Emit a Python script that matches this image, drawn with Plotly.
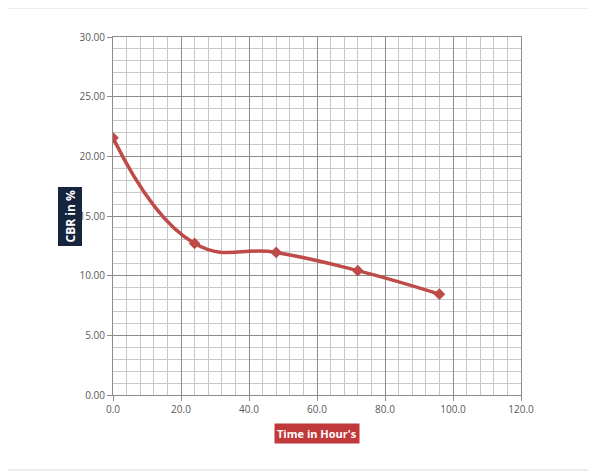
import plotly.graph_objects as go

time_hours = [0, 24, 48, 72, 96]
cbr_percent = [21.55, 12.7, 11.95, 10.42, 8.45]

x_title = "Time in Hour's"
y_title = "CBR in %"

# page body has an 8px margin; figure coordinates are offset accordingly
W, H = 588, 468
L, T = 105, 29
PW, PH = 408, 358

fig = go.Figure()
fig.add_trace(go.Scatter(
    x=time_hours, y=cbr_percent, mode="lines+markers",
    line=dict(color="#BE4B48", width=3.5, shape="spline", smoothing=1.3),
    marker=dict(symbol="diamond", size=9, color="#BE4B48"),
    showlegend=False,
))

fig.update_layout(
    width=W, height=H,
    margin=dict(l=L, r=W - L - PW, t=T, b=H - T - PH),
    paper_bgcolor="white", plot_bgcolor="white",
    font=dict(family="Open Sans", size=10, color="#595959"),
    xaxis=dict(
        range=[0, 120], dtick=20, tickformat=".1f",
        showgrid=True, gridcolor="#8c8c8c", gridwidth=1,
        showline=True, linecolor="#8c8c8c", linewidth=1, mirror=True,
        ticks="outside", ticklen=5, tickcolor="#8c8c8c",
        zeroline=False,
        minor=dict(dtick=4, showgrid=True, gridcolor="#c8c8c8", gridwidth=1),
        fixedrange=True,
    ),
    yaxis=dict(
        range=[0, 30], dtick=5, tickformat=".2f",
        showgrid=True, gridcolor="#8c8c8c", gridwidth=1,
        showline=True, linecolor="#8c8c8c", linewidth=1, mirror=True,
        ticks="outside", ticklen=5, tickcolor="#8c8c8c",
        zeroline=False,
        minor=dict(dtick=1, showgrid=True, gridcolor="#c8c8c8", gridwidth=1),
        fixedrange=True,
    ),
    shapes=[dict(type="rect", xref="paper", yref="paper",
                 x0=-(113-5)/PW, x1=(590-113)/PW, y0=-(470-395)/PH, y1=(395-8)/PH,
                 line=dict(color="#d9d9d9", width=1), fillcolor="rgba(0,0,0,0)", layer="below")],
    annotations=[
        dict(text="<b>" + x_title + "</b>", xref="paper", yref="paper",
             x=(317-113)/PW, y=-(444-395)/PH, showarrow=False,
             font=dict(family="Open Sans", size=11, color="white"),
             bgcolor="#C0393B", borderpad=2),
        dict(text="<b>" + y_title + "</b>", xref="paper", yref="paper",
             x=-(113-57)/PW, y=(395-216)/PH, showarrow=False, textangle=-90,
             font=dict(family="Open Sans", size=12, color="white"),
             bgcolor="#17243D", borderpad=3),
    ],
)

fig.write_html("out.html")
